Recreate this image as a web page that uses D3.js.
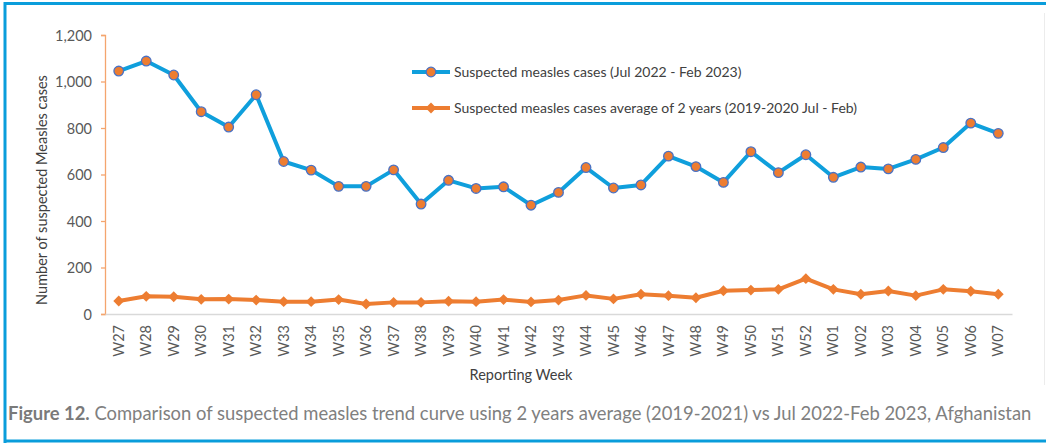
<!DOCTYPE html>
<html>
<head>
<meta charset="utf-8">
<script src="https://cdn.jsdelivr.net/npm/d3@7"></script>
<style>
  body { margin: 0; background: #fff; }
  #measles-chart { position: relative; width: 1046px; height: 443px; overflow: hidden; }
  .axis text { font-family: Lato, "Open Sans", sans-serif; fill: #595959; }
</style>
</head>
<body>
<div id="measles-chart"></div>
<script>
// weeks on the x axis (W27 2022 -> W07 2023)
const weeks = ["W27","W28","W29","W30","W31","W32","W33","W34","W35","W36","W37","W38","W39",
  "W40","W41","W42","W43","W44","W45","W46","W47","W48","W49","W50","W51","W52",
  "W01","W02","W03","W04","W05","W06","W07"];

// suspected measles cases Jul 2022 - Feb 2023
const casesCurrent = [1045,1088,1028,870,804,943,656,619,549,549,620,473,575,
  540,547,468,523,630,542,555,679,634,566,698,608,685,
  588,632,624,665,716,821,777];

// average of 2 years (2019-2020 Jul - Feb)
const casesAverage = [56,76,74,63,64,60,53,53,62,43,50,50,55,
  53,62,52,60,80,65,85,79,70,100,103,106,152,
  106,85,99,79,106,98,85];

const yTicks = [0,200,400,600,800,1000,1200];

const seriesNames = ["Suspected measles cases (Jul 2022 - Feb 2023)",
  "Suspected measles cases average of 2 years (2019-2020 Jul - Feb)"];

const captionBold = "Figure 12.";
const captionText = " Comparison of suspected measles trend curve using 2 years average (2019-2021) vs Jul 2022-Feb 2023, Afghanistan";

// colours
const blueLine = "#0f9fdc",
      orangeLine = "#ed7d31",
      markerEdge = "#4a72c4";

const marginMeasles = { top: 35, right: 34, bottom: 129, left: 105 },
  widthMeasles = 1046 - marginMeasles.left - marginMeasles.right,
  heightMeasles = 443 - marginMeasles.top - marginMeasles.bottom;

const svgRoot = d3.select("#measles-chart")
  .append("svg")
    .attr("width", 1046)
    .attr("height", 443);

// frame around the figure
svgRoot.append("line").attr("x1", 5).attr("x2", 1046).attr("y1", 3.5).attr("y2", 3.5)
  .attr("stroke", "#0a9ddb").attr("stroke-width", 3);
svgRoot.append("line").attr("x1", 5).attr("x2", 5).attr("y1", 2).attr("y2", 443)
  .attr("stroke", "#0a9ddb").attr("stroke-width", 3);
svgRoot.append("line").attr("x1", 5).attr("x2", 1046).attr("y1", 441).attr("y2", 441)
  .attr("stroke", "#0a9ddb").attr("stroke-width", 3);
svgRoot.append("line").attr("x1", 1044.5).attr("x2", 1044.5).attr("y1", 13).attr("y2", 385)
  .attr("stroke", "#ececec").attr("stroke-width", 1);

const svgMeasles = svgRoot.append("g")
  .attr("transform", "translate(" + marginMeasles.left + "," + marginMeasles.top + ")");

// scales
let x = d3.scaleBand()
  .domain(weeks)
  .range([0, widthMeasles]);

let y = d3.scaleLinear()
  .domain([0, 1200])
  .range([heightMeasles, 0]);

const xc = function (d) { return x(d) + x.bandwidth() / 2; };

// y axis (orange line, outward ticks)
let yAxis = svgMeasles.append("g")
  .attr("class", "y axis")
  .call(d3.axisLeft(y).tickValues(yTicks).tickFormat(d3.format(",")).tickSize(4).tickPadding(9));
yAxis.select(".domain").attr("stroke", "#f4a56e").attr("stroke-width", 1.3);
yAxis.selectAll(".tick line").attr("stroke", "#f4a56e").attr("stroke-width", 1.3);
yAxis.selectAll("text").style("font-size", "14.5px").attr("dy", "0.35em");

// x axis (light gray, no ticks)
let xAxis = svgMeasles.append("g")
  .attr("class", "x axis")
  .attr("transform", `translate(0, ${heightMeasles})`)
  .call(d3.axisBottom(x).tickSize(0).tickSizeOuter(0));
xAxis.select(".domain").attr("stroke", "#d9d9d9").attr("stroke-width", 1.3);
xAxis.selectAll("text")
  .style("font-size", "14.5px")
  .attr("text-anchor", "end")
  .attr("transform", "rotate(-90)")
  .attr("x", -11)
  .attr("y", 0)
  .attr("dy", "0.35em");

// axis titles
svgRoot.append("text")
  .attr("x", 521)
  .attr("y", 380)
  .attr("text-anchor", "middle")
  .style("font-family", "Lato, sans-serif")
  .style("font-size", "14.5px")
  .attr("fill", "#404040")
  .text("Reporting Week");

svgRoot.append("text")
  .attr("transform", "translate(47,190) rotate(-90)")
  .attr("text-anchor", "middle")
  .style("font-family", "Lato, sans-serif")
  .style("font-size", "14.5px")
  .attr("fill", "#404040")
  .text("Number of suspected Measles cases");

// lines
const lineGen = function (values) {
  return d3.line()
    .x(function (d, i) { return xc(weeks[i]); })
    .y(function (d) { return y(d); })(values);
};

svgMeasles.append("path")
  .attr("d", lineGen(casesAverage))
  .attr("fill", "none")
  .attr("stroke", orangeLine)
  .attr("stroke-width", 4)
  .attr("stroke-linejoin", "round");

svgMeasles.append("path")
  .attr("d", lineGen(casesCurrent))
  .attr("fill", "none")
  .attr("stroke", blueLine)
  .attr("stroke-width", 4)
  .attr("stroke-linejoin", "round");

// diamond markers
const diamond = d3.symbol().type(d3.symbolDiamond2).size(75);
svgMeasles.selectAll(".avg-dot")
  .data(casesAverage)
  .enter().append("path")
  .attr("class", "avg-dot")
  .attr("d", diamond)
  .attr("transform", function (d, i) { return "translate(" + xc(weeks[i]) + "," + y(d) + ")"; })
  .attr("fill", orangeLine);

// circle markers
svgMeasles.selectAll(".cur-dot")
  .data(casesCurrent)
  .enter().append("circle")
  .attr("class", "cur-dot")
  .attr("cx", function (d, i) { return xc(weeks[i]); })
  .attr("cy", function (d) { return y(d); })
  .attr("r", 4.8)
  .attr("fill", orangeLine)
  .attr("stroke", markerEdge)
  .attr("stroke-width", 1.3);

// legend
let legend = svgRoot.selectAll(".legend")
  .data(seriesNames)
  .enter().append("g")
  .attr("class", "legend")
  .attr("transform", function (d, i) { return "translate(412," + (72 + i * 36) + ")"; });

legend.append("line")
  .attr("x1", 0).attr("x2", 38)
  .attr("stroke", function (d, i) { return i === 0 ? blueLine : orangeLine; })
  .attr("stroke-width", 4);

legend.each(function (d, i) {
  let g = d3.select(this);
  if (i === 0) {
    g.append("circle").attr("cx", 19).attr("r", 4.8)
      .attr("fill", orangeLine).attr("stroke", markerEdge).attr("stroke-width", 1.3);
  } else {
    g.append("path").attr("d", diamond).attr("transform", "translate(19,0)").attr("fill", orangeLine);
  }
});

legend.append("text")
  .attr("x", 42)
  .attr("dy", "0.35em")
  .style("font-family", "Lato, sans-serif")
  .style("font-size", "14px")
  .attr("fill", "#404040")
  .text(function (d) { return d; });

// caption (kept fully inside the frame)
let caption = svgRoot.append("text")
  .attr("x", 8)
  .attr("y", 420)
  .style("font-family", "Lato, sans-serif")
  .style("font-size", "18.4px")
  .attr("fill", "#808080");
caption.append("tspan").style("font-weight", "bold").attr("fill", "#7a7a7a").text(captionBold);
caption.append("tspan").text(captionText);
</script>
</body>
</html>
